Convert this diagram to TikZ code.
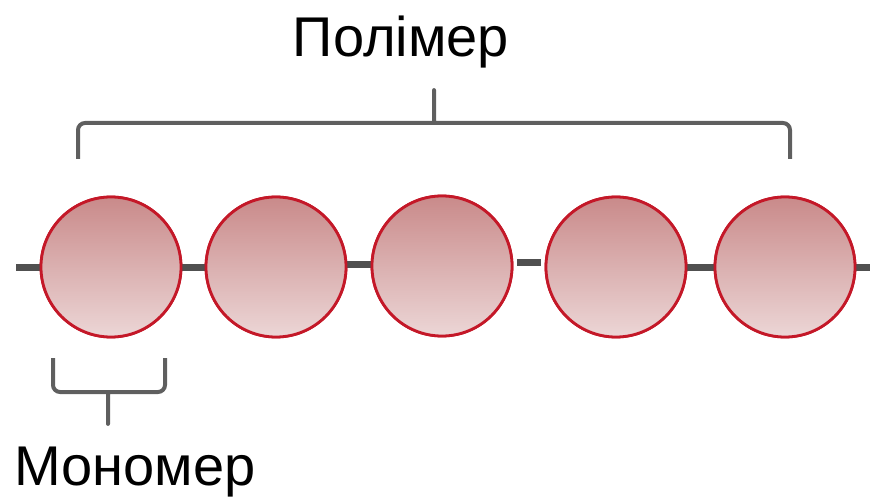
\documentclass[tikz,border=0pt]{standalone}
\usepackage{fontspec}
\setmainfont{Liberation Sans}
\begin{document}
\begin{tikzpicture}[x=1pt,y=-1pt,
  mono/.style={circle,minimum size=140pt,inner sep=0pt,draw=mred,line width=2.8pt,
    top color=mtop,bottom color=mbot},
  bond/.style={draw=bondgray,line width=7pt},
  brace/.style={draw=bracegray,line width=4pt,rounded corners=7pt,line join=round},
  lbl/.style={font=\fontsize{56}{60}\selectfont,inner sep=0pt,anchor=base}]
\definecolor{mtop}{RGB}{201,138,138}
\definecolor{mbot}{RGB}{236,214,214}
\definecolor{mred}{RGB}{196,24,40}
\definecolor{bondgray}{RGB}{80,80,80}
\definecolor{bracegray}{RGB}{95,95,95}
\useasboundingbox (0,0) rectangle (870,497);
\coordinate (l0) at (16,267);
\coordinate (r0) at (870,267);
\node[mono] (m1) at (111,267) {};
\node[mono] (m2) at (276,267) {};
\node[mono] (m3) at (442,266) {};
\node[mono] (m4) at (616,267) {};
\node[mono] (m5) at (785,267) {};
% bonds
\draw[bond] (l0) -- (m1.west);
\draw[bond] (m1.east) -- (m2.west);
\draw[bond] ([yshift=3pt]m2.east) -- ([yshift=2pt]m3.west);
\draw[bond,shorten <=4pt,shorten >=4pt] ([yshift=4pt]m3.east) -- ([yshift=5pt]m4.west);
\draw[bond] (m4.east) -- (m5.west);
\draw[bond] (m5.east) -- (r0);
% redraw circles above bonds
\node[mono] at (m1) {};
\node[mono] at (m2) {};
\node[mono] at (m3) {};
\node[mono] at (m4) {};
\node[mono] at (m5) {};
% labels
\node[lbl] (poly) at (401,57) {Полімер};
\node[lbl] (mono) at (135,485) {Мономер};
% top brace
\coordinate (tl) at (78,159);
\coordinate (tr) at (790,159);
\coordinate (tt) at (434,86);
\draw[brace] (tl) |- (428,123) to[out=0,in=-90] (434,116) -- (tt) -- (434,116) to[out=-90,in=180] (440,123) -| (tr);
% bottom brace
\coordinate (bl) at (53,358);
\coordinate (br) at (165,358);
\coordinate (bt) at (108,428);
\draw[brace] (bl) |- (102,392) to[out=0,in=90] (108,399) -- (bt) -- (108,399) to[out=90,in=180] (114,392) -| (br);
\end{tikzpicture}
\end{document}
